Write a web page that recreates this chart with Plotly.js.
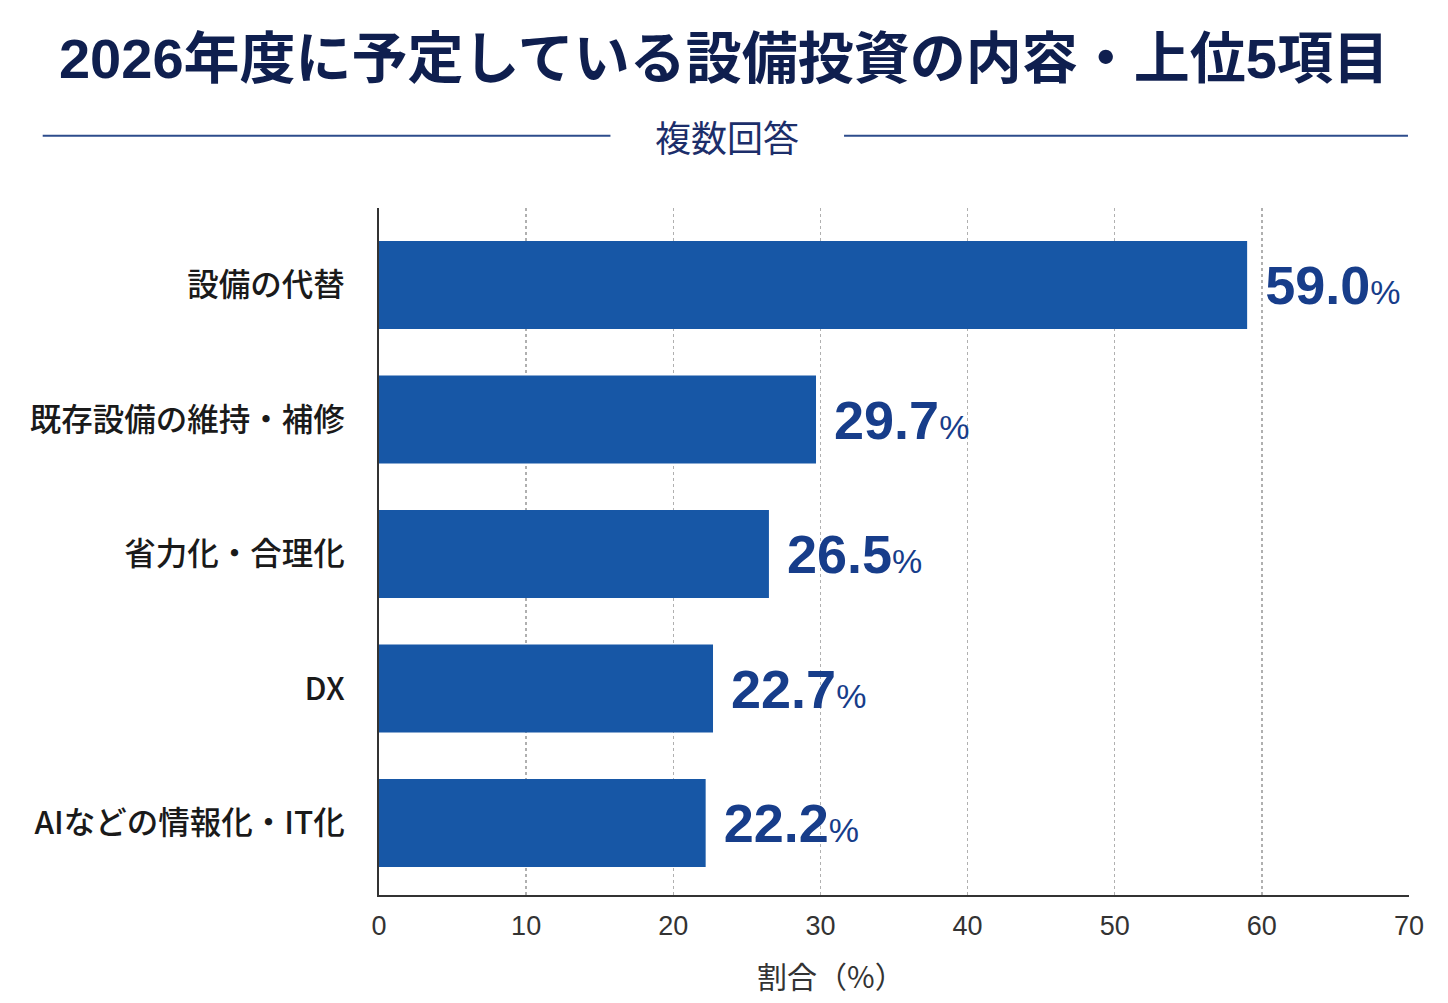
<!DOCTYPE html>
<html>
<head>
<meta charset="utf-8">
<script src="https://cdn.plot.ly/plotly-3.0.1.min.js"></script>
<style>
  html, body { margin: 0; padding: 0; background: #ffffff; }
  #chart { width: 1448px; height: 1003px; }
</style>
</head>
<body>
<div id="chart"></div>
<script>
// data (multiple answers, top 5)
var categories = ['設備の代替', '既存設備の維持・補修', '省力化・合理化', 'DX', 'AIなどの情報化・IT化'];
var shares = [59.0, 29.7, 26.5, 22.7, 22.2];
var xTicks = [0, 10, 20, 30, 40, 50, 60, 70];

var FONT = '"Liberation Sans", "Noto Sans CJK JP", sans-serif';
var CJK = '"Noto Sans CJK JP", "Noto Sans", sans-serif';
var NAVY = '#0f1f4f';
var BAR = '#1757a6';
var LABEL = '#173d8a';

var trace = {
    type: 'bar',
    orientation: 'h',
    x: shares,
    y: categories,
    width: 0.655,
    marker: { color: BAR, line: { width: 0 } },
    text: shares.map(function (v) { return v.toFixed(1); }),
    // a no-break space keeps the label clear of the bar end
    texttemplate: '\u00a0<b>%{text}</b><span style="font-size:34px">%</span>',
    textposition: 'outside',
    cliponaxis: false,
    textfont: { family: FONT, size: 54, color: LABEL },
    hoverinfo: 'skip'
};

var layout = {
    width: 1448,
    height: 1003,
    paper_bgcolor: '#ffffff',
    plot_bgcolor: '#ffffff',
    showlegend: false,
    margin: { l: 379, r: 39, t: 208, b: 108, pad: 0 },
    font: { family: FONT, color: '#222222' },
    title: {
        text: '<b>2026年度に予定している設備投資の内容・上位5項目</b>',
        x: 0.5,
        xanchor: 'center',
        y: 0.942,
        yanchor: 'middle',
        font: { family: FONT, size: 56, color: NAVY }
    },
    xaxis: {
        range: [0, 70],
        tickvals: xTicks,
        ticktext: xTicks.map(String),
        showgrid: true,
        gridcolor: '#b0b0b0',
        gridwidth: 1.5,
        griddash: 'dot',
        zeroline: false,
        showline: true,
        linecolor: '#333333',
        linewidth: 2,
        ticks: '',
        ticklabelstandoff: 6,
        tickfont: { family: FONT, size: 27, color: '#333333' },
        fixedrange: true
    },
    yaxis: {
        type: 'category',
        categoryorder: 'array',
        categoryarray: categories,
        range: [4.535, -0.573],
        showgrid: false,
        zeroline: false,
        showline: true,
        linecolor: '#333333',
        linewidth: 2,
        ticks: '',
        ticklabelstandoff: 26,
        tickfont: { family: CJK, size: 31.5, color: '#1a1a1a', weight: 500 },
        fixedrange: true
    },
    shapes: [
        { type: 'line', xref: 'paper', yref: 'paper', x0: -0.3265, x1: 0.2247, y0: 1.105, y1: 1.105,
          line: { color: '#2d4c8c', width: 2 } },
        { type: 'line', xref: 'paper', yref: 'paper', x0: 0.4515, x1: 0.9990, y0: 1.105, y1: 1.105,
          line: { color: '#2d4c8c', width: 2 } }
    ],
    annotations: [
        { text: '複数回答', xref: 'paper', yref: 'paper', x: 0.3375, y: 1.105,
          xanchor: 'center', yanchor: 'middle', showarrow: false,
          font: { family: CJK, size: 36, color: '#1c2e6a' } },
        { text: '割合（%）', xref: 'paper', yref: 'paper', x: 0.4388, y: -0.116,
          xanchor: 'center', yanchor: 'middle', showarrow: false,
          font: { family: CJK, size: 30, color: '#333333' } }
    ]
};

Plotly.newPlot('chart', [trace], layout, { displayModeBar: false, staticPlot: true });
</script>
</body>
</html>
